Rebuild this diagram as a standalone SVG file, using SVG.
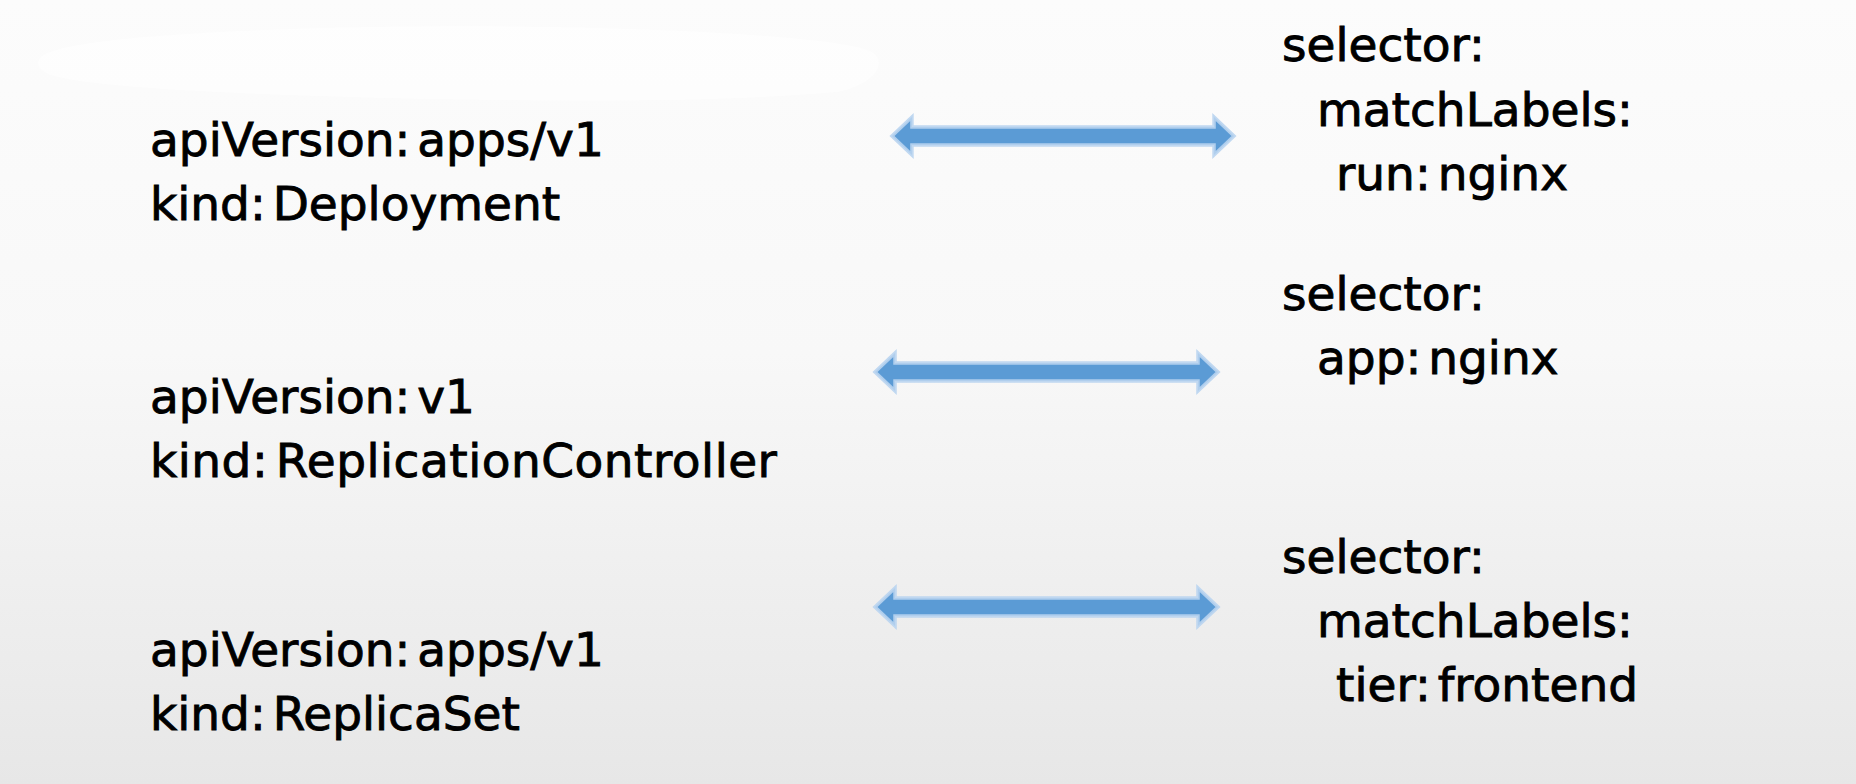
<svg xmlns="http://www.w3.org/2000/svg" width="1856" height="784" viewBox="0 0 1856 784">
  <defs>
    <linearGradient id="bg" x1="0" y1="0" x2="0" y2="1">
      <stop offset="0" stop-color="#fcfcfc"/>
      <stop offset="0.45" stop-color="#f8f8f8"/>
      <stop offset="1" stop-color="#e7e7e7"/>
    </linearGradient>
    <path id="arrow343" d="M0,0 L20,-19 L20,-9 L323,-9 L323,-19 L343,0 L323,19 L323,9 L20,9 L20,19 Z"/>
  </defs>
  <style>
    text { font-family: "DejaVu Sans", "Liberation Sans", sans-serif; font-size: 47px; fill: #000000; stroke: #000000; stroke-width: 0.9; word-spacing: -8px; }
    .wide { letter-spacing: 0.5px; }
    .arrow { fill: #5b9bd5; stroke: #b9d4ef; stroke-width: 3.5; stroke-linejoin: miter; stroke-opacity: 0.9; }
  </style>

  <rect x="0" y="0" width="1856" height="784" fill="url(#bg)"/>
  <path d="M42,56 C70,34 300,26 470,26 C640,26 845,36 872,52 C888,62 876,84 838,92 C700,104 520,101 380,98 C240,94 85,88 48,74 C36,68 36,61 42,56 Z" fill="#ffffff" fill-opacity="0.5"/>

  <g id="deployment">
    <text x="150" y="156">apiVersion: apps/v1</text>
    <text x="150" y="220">kind: Deployment</text>
  </g>
  <g id="replicationcontroller">
    <text x="150" y="413">apiVersion: v1</text>
    <text x="150" y="477" class="wide">kind: ReplicationController</text>
  </g>
  <g id="replicaset">
    <text x="150" y="666">apiVersion: apps/v1</text>
    <text x="150" y="730">kind: ReplicaSet</text>
  </g>

  <g id="selector-deployment">
    <text x="1282" y="61">selector:</text>
    <text x="1317" y="126">matchLabels:</text>
    <text x="1336" y="190">run: nginx</text>
  </g>
  <g id="selector-rc">
    <text x="1282" y="310">selector:</text>
    <text x="1317" y="374">app: nginx</text>
  </g>
  <g id="selector-rs">
    <text x="1282" y="573">selector:</text>
    <text x="1317" y="637">matchLabels:</text>
    <text x="1336" y="701">tier: frontend</text>
  </g>

  <g id="connectors">
    <use href="#arrow343" class="arrow" transform="translate(892,136) scale(0.997,1)"/>
    <use href="#arrow343" class="arrow" transform="translate(875,372)"/>
    <use href="#arrow343" class="arrow" transform="translate(875,607)"/>
  </g>
</svg>
